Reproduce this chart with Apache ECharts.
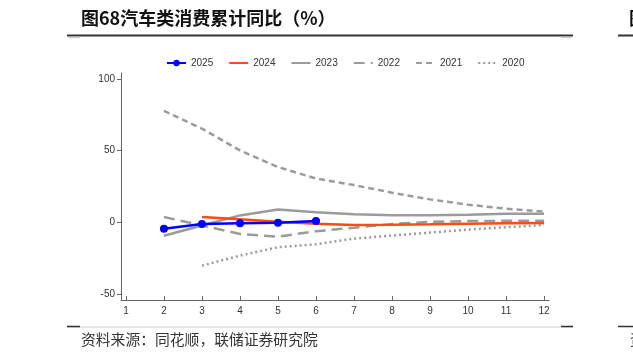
<!DOCTYPE html>
<html><head><meta charset="utf-8">
<script src="https://cdn.jsdelivr.net/npm/echarts@6/dist/echarts.min.js"></script>
<style>html,body{margin:0;padding:0;background:#fff}#c{width:633px;height:359px}</style>
</head><body><div id="c"></div>
<script>
const months = [2,3,4,5,6,7,8,9,10,11,12];
const xTicks = [1,2,3,4,5,6,7,8,9,10,11,12];
const yTicks = [-50,0,50,100];
const s2025 = [-4.5,-1.2,-0.7,-0.3,0.9,null,null,null,null,null,null];
const s2024 = [null,3.7,2.1,0.4,-1.0,-1.9,-1.7,-1.4,-1.0,-0.6,-0.5];
const s2023 = [-9.4,-2.2,4.8,8.9,7.0,5.6,5.0,4.9,5.3,5.9,5.9];
const s2022 = [3.7,-2.2,-8.2,-10.0,-6.3,-3.8,-1.2,0.3,0.9,1.0,1.1];
const s2021 = [77.8,65.4,50.2,38.6,30.6,26.0,20.7,16.0,12.3,9.5,7.4];
const s2020 = [null,-30.3,-23.3,-17.4,-15.4,-11.4,-9.3,-7.2,-5.1,-3.5,-1.9];
const names = ['2025','2024','2023','2022','2021','2020'];

function pts(arr){ return months.map((m,i)=> arr[i]==null ? null : [m, arr[i]]).filter(p=>p); }
const gray = '#9b9b9b';
const chart = echarts.init(document.getElementById('c'), null, {renderer:'canvas'});
const font = 'Liberation Sans, Arial, sans-serif';
const cjk = '"Noto Sans CJK SC", sans-serif';
chart.setOption({
  animation:false,
  textStyle:{fontFamily:font},
  grid:{left:121, right:84, top:73, bottom:59},
  legend:{
    top:53, left:161, itemWidth:19, itemHeight:8, itemGap:15,
    textStyle:{fontSize:10, color:'#333', fontFamily:font},
    data: names.map(n => n === '2025' ? {name:n} : {name:n, itemStyle:{opacity:0}})
  },
  xAxis:{
    type:'value', min:0.87, max:12.13,
    axisLine:{show:true, onZero:false, lineStyle:{color:'#666', width:1}},
    axisTick:{show:true, inside:true, length:4, lineStyle:{color:'#666'}, customValues:xTicks},
    axisLabel:{customValues:xTicks, color:'#333', fontSize:10, margin:6, formatter:v=>String(Math.round(v))},
    splitLine:{show:false}
  },
  yAxis:{
    type:'value', min:-54.3, max:104.3,
    axisLine:{show:true, onZero:false, lineStyle:{color:'#666', width:1}},
    axisTick:{show:true, length:4, lineStyle:{color:'#666'}, customValues:yTicks},
    axisLabel:{customValues:yTicks, color:'#333', fontSize:10, margin:6},
    splitLine:{show:false}
  },
  series:[
    {name:'2020', type:'line', data:pts(s2020), symbol:'none', lineStyle:{color:gray, width:2.5, type:[2,3]}, itemStyle:{color:gray}, z:2},
    {name:'2021', type:'line', data:pts(s2021), symbol:'none', lineStyle:{color:gray, width:2.5, type:[6,4]}, itemStyle:{color:gray}, z:2},
    {name:'2022', type:'line', data:pts(s2022), symbol:'none', lineStyle:{color:gray, width:2.5, type:[11,6]}, itemStyle:{color:gray}, z:2},
    {name:'2023', type:'line', data:pts(s2023), symbol:'none', lineStyle:{color:gray, width:2.5}, itemStyle:{color:gray}, z:2},
    {name:'2024', type:'line', data:pts(s2024), symbol:'none', lineStyle:{color:'#ff4a12', width:2.5}, itemStyle:{color:'#ff4a12'}, z:3},
    {name:'2025', type:'line', data:pts(s2025), symbol:'circle', symbolSize:8, lineStyle:{color:'#0000ff', width:2.5}, itemStyle:{color:'#0000ff'}, z:4}
  ],
  graphic:[
    {type:'text', left:81, top:9, style:{text:'图68汽车类消费累计同比（%）', font:'bold 18px ' + cjk, fill:'#111'}},
    {type:'text', left:629, top:9, style:{text:'图', font:'bold 18px ' + cjk, fill:'#111'}},
    {type:'line', shape:{x1:67, y1:35.5, x2:573, y2:35.5}, style:{stroke:'#333', lineWidth:2}},
    {type:'line', shape:{x1:68, y1:37.5, x2:80, y2:37.5}, style:{stroke:'#cfcfcf', lineWidth:1.5}},
    {type:'line', shape:{x1:561, y1:37.5, x2:572, y2:37.5}, style:{stroke:'#cfcfcf', lineWidth:1.5}},
    {type:'line', shape:{x1:618, y1:35.5, x2:633, y2:35.5}, style:{stroke:'#333', lineWidth:2}},
    {type:'line', shape:{x1:67, y1:327, x2:573, y2:327}, style:{stroke:'#cccccc', lineWidth:1}},
    {type:'line', shape:{x1:67, y1:326.5, x2:80, y2:326.5}, style:{stroke:'#333', lineWidth:1.5}},
    {type:'line', shape:{x1:561, y1:326.5, x2:573, y2:326.5}, style:{stroke:'#333', lineWidth:1.5}},
    {type:'line', shape:{x1:618, y1:326.5, x2:633, y2:326.5}, style:{stroke:'#333', lineWidth:1.5}},
    {type:'text', left:81, top:332, style:{text:'资料来源：同花顺，联储证券研究院', font:'14.8px ' + cjk, fill:'#333'}},
    {type:'text', left:630, top:332, style:{text:'资', font:'14.8px ' + cjk, fill:'#333'}}
  ]
});
</script></body></html>
